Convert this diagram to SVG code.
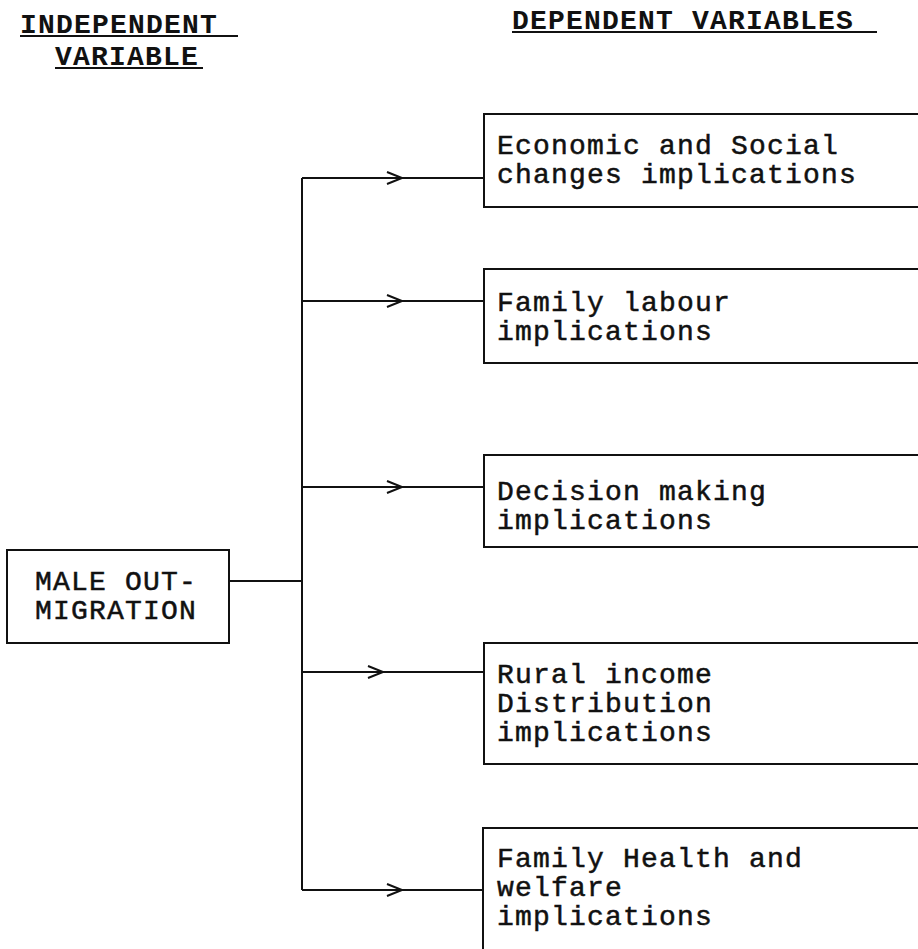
<svg xmlns="http://www.w3.org/2000/svg" width="918" height="949" viewBox="0 0 918 949">
<style>
.t{font-family:"Liberation Mono","Courier New",monospace;font-size:28px;letter-spacing:1.2px;fill:#111;stroke:#111;stroke-width:0.5}
.h{font-family:"Liberation Mono","Courier New",monospace;font-size:28px;letter-spacing:1.2px;font-weight:bold;fill:#111}
.b{fill:#fff;stroke:#111;stroke-width:2}
.c{fill:none;stroke:#111;stroke-width:2}
</style>
<rect width="918" height="949" fill="#fff"/>
<g id="headers">
<text class="h" x="20" y="33">INDEPENDENT</text>
<line class="c" x1="20" y1="36" x2="238" y2="36"/>
<text class="h" x="55" y="65">VARIABLE</text>
<line class="c" x1="55" y1="68" x2="203" y2="68"/>
<text class="h" x="512" y="29">DEPENDENT VARIABLES</text>
<line class="c" x1="512" y1="32" x2="877" y2="32"/>
</g>
<g id="connectors">
<path class="c" d="M229,581 H302 M302,178 V890"/>
<path class="c" d="M302,178 H484 M387,172 L402,178 L387,184"/>
<path class="c" d="M302,301 H484 M387,295 L402,301 L387,307"/>
<path class="c" d="M302,487 H484 M387,481 L402,487 L387,493"/>
<path class="c" d="M302,672 H484 M368,666 L383,672 L368,678"/>
<path class="c" d="M302,890 H484 M387,884 L402,890 L387,896"/>
</g>
<g id="male">
<rect class="b" x="7" y="550" width="222" height="93"/>
<text class="t" x="35" y="590">MALE OUT-</text>
<text class="t" x="35" y="619">MIGRATION</text>
</g>
<g id="econ">
<rect class="b" x="484" y="114" width="450" height="93"/>
<text class="t" x="497" y="154">Economic and Social</text>
<text class="t" x="497" y="183">changes implications</text>
</g>
<g id="labour">
<rect class="b" x="484" y="269" width="450" height="94"/>
<text class="t" x="497" y="311">Family labour</text>
<text class="t" x="497" y="340">implications</text>
</g>
<g id="decision">
<rect class="b" x="484" y="455" width="450" height="92"/>
<text class="t" x="497" y="500">Decision making</text>
<text class="t" x="497" y="529">implications</text>
</g>
<g id="rural">
<rect class="b" x="484" y="643" width="450" height="121"/>
<text class="t" x="497" y="683">Rural income</text>
<text class="t" x="497" y="712">Distribution</text>
<text class="t" x="497" y="741">implications</text>
</g>
<g id="health">
<rect class="b" x="483" y="828" width="450" height="140"/>
<text class="t" x="497" y="867">Family Health and</text>
<text class="t" x="497" y="896">welfare</text>
<text class="t" x="497" y="925">implications</text>
</g>
</svg>
